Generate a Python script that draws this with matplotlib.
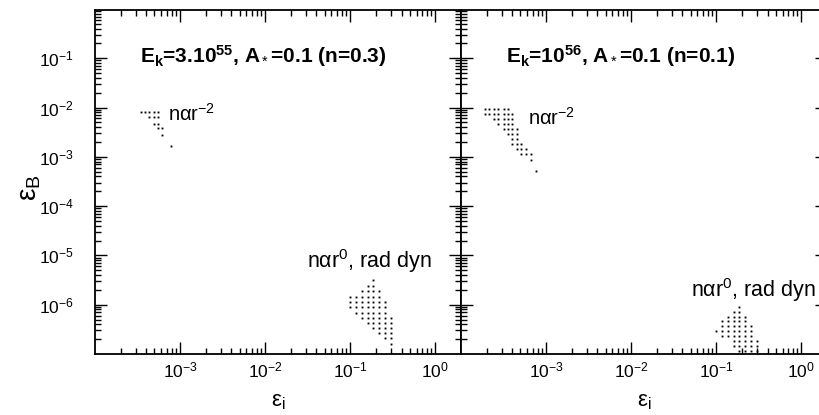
import numpy as np
import matplotlib
matplotlib.use('Agg')
import matplotlib.pyplot as plt
from matplotlib.ticker import FixedLocator, LogLocator, NullFormatter, FuncFormatter

plt.rcParams['font.family'] = ['Liberation Sans', 'DejaVu Sans']
plt.rcParams['mathtext.fontset'] = 'custom'
plt.rcParams['mathtext.rm'] = 'Liberation Sans'
plt.rcParams['mathtext.it'] = 'Liberation Sans:italic'
plt.rcParams['mathtext.bf'] = 'Liberation Sans:bold'

# allowed (eps_i, eps_B) parameter points, stored as log10 grid columns,
# log10 rows and the (first, last) column index kept on each row

# n ~ r^-2, left panel (n=0.3)
r2a_cols = [-3.46, -3.41, -3.36, -3.31, -3.26, -3.21, -3.16, -3.11]
r2a_rows = [-2.10, -2.20, -2.33, -2.42, -2.55, -2.78]
r2a_span = [(0, 4), (2, 4), (3, 4), (4, 5), (5, 5), (7, 7)]

# n ~ r^-2, right panel (n=0.1)
r2b_cols = [-3.72, -3.67, -3.61, -3.56, -3.50, -3.45, -3.40, -3.34, -3.29, -3.24, -3.18, -3.12]
r2b_rows = [-2.03, -2.13, -2.23, -2.33, -2.43, -2.53, -2.63, -2.74, -2.85, -2.95, -3.06, -3.29]
r2b_span = [(0, 5), (0, 6), (2, 6), (3, 6), (4, 7), (5, 7), (6, 7), (6, 8), (7, 9), (8, 10), (10, 10), (11, 11)]

# n ~ r^0, radiative dynamics: eps_i from 0.1 to 0.3
rd_cols = [0.100, 0.117, 0.137, 0.160, 0.187, 0.219, 0.257, 0.300]

rda_rows = [-5.50, -5.62, -5.72, -5.84, -5.94, -6.04, -6.16, -6.26, -6.37, -6.48, -6.58, -6.68, -6.80]
rda_span = [(4, 4), (3, 4), (2, 5), (0, 5), (0, 6), (0, 6), (1, 6), (2, 7), (3, 7), (4, 7), (5, 7), (6, 7), (7, 7)]

rdb_rows = [-6.04, -6.14, -6.24, -6.34, -6.44, -6.54, -6.64, -6.74, -6.84, -6.94]
rdb_span = [(4, 4), (3, 4), (2, 5), (1, 5), (1, 6), (0, 6), (1, 6), (3, 7), (3, 7), (4, 7)]

titles = ['E$_\\mathbf{k}$=3.10$^\\mathbf{55}$, A$_*$=0.1 (n=0.3)',
          'E$_\\mathbf{k}$=10$^\\mathbf{56}$, A$_*$=0.1 (n=0.1)']

xlim = (1e-4, 2.0)
ylim = (1e-7, 0.95)


def grid_points(cols, rows, spans, log_cols=True):
    xs, ys = [], []
    for row, (i0, i1) in zip(rows, spans):
        for c in cols[i0:i1 + 1]:
            xs.append(10 ** c if log_cols else c)
            ys.append(10 ** row)
    return xs, ys


def dec_label(v, pos):
    return r'$\mathdefault{10^{%d}}$' % int(round(np.log10(v)))


fig = plt.figure(figsize=(8.2, 4.15), dpi=100)
ax1 = fig.add_axes([95 / 820, 61 / 415, 366 / 820, 344 / 415])
ax2 = fig.add_axes([461 / 820, 61 / 415, 366 / 820, 344 / 415])

regions = [
    [(r2a_cols, r2a_rows, r2a_span, True), (rd_cols, rda_rows, rda_span, False)],
    [(r2b_cols, r2b_rows, r2b_span, True), (rd_cols, rdb_rows, rdb_span, False)],
]

for ax, regs, title in zip([ax1, ax2], regions, titles):
    for cols, rows, spans, lc in regs:
        xs, ys = grid_points(cols, rows, spans, lc)
        ax.plot(xs, ys, 's', ms=1.35, mew=0, color='k')
    ax.set_xscale('log')
    ax.set_yscale('log')
    ax.set_xlim(*xlim)
    ax.set_ylim(*ylim)
    ax.xaxis.set_major_locator(FixedLocator([1e-3, 1e-2, 1e-1, 1e0]))
    ax.xaxis.set_major_formatter(FuncFormatter(dec_label))
    ax.xaxis.set_minor_locator(LogLocator(base=10, subs=np.arange(2, 10), numticks=20))
    ax.xaxis.set_minor_formatter(NullFormatter())
    ax.yaxis.set_major_locator(FixedLocator([1e-6, 1e-5, 1e-4, 1e-3, 1e-2, 1e-1]))
    ax.yaxis.set_major_formatter(FuncFormatter(dec_label))
    ax.yaxis.set_minor_locator(LogLocator(base=10, subs=np.arange(2, 10), numticks=20))
    ax.yaxis.set_minor_formatter(NullFormatter())
    ax.tick_params(which='both', direction='in', top=True, right=True, width=1.0, color='k')
    ax.tick_params(which='major', length=8.5)
    ax.tick_params(which='minor', length=4.5)
    ax.tick_params(axis='x', which='major', labelsize=12.5, pad=5)
    for sp in ax.spines.values():
        sp.set_linewidth(1.3)
    ax.set_xlabel('ε$_\\mathrm{i}$', fontsize=16, labelpad=7)
    ax.text(0.123, 0.846, title, transform=ax.transAxes, fontsize=15,
            fontweight='bold', va='baseline', ha='left')

ax1.tick_params(axis='y', which='major', labelsize=12.5, pad=15)
ax2.tick_params(axis='y', labelleft=False)
fig.text(30 / 820, 1 - 188 / 415, 'ε$_\\mathrm{B}$', fontsize=20, rotation=90,
         ha='center', va='center')

ax1.text(0.20, 0.677, 'nαr$^{-2}$', transform=ax1.transAxes, fontsize=14.5, va='baseline')
ax2.text(0.183, 0.666, 'nαr$^{-2}$', transform=ax2.transAxes, fontsize=14.5, va='baseline')
ax1.text(0.579, 0.25, 'nαr$^{0}$, rad dyn', transform=ax1.transAxes, fontsize=15.5, va='baseline')
ax2.text(0.628, 0.166, 'nαr$^{0}$, rad dyn', transform=ax2.transAxes, fontsize=15.5, va='baseline')

fig.savefig('out.png', dpi=100)
